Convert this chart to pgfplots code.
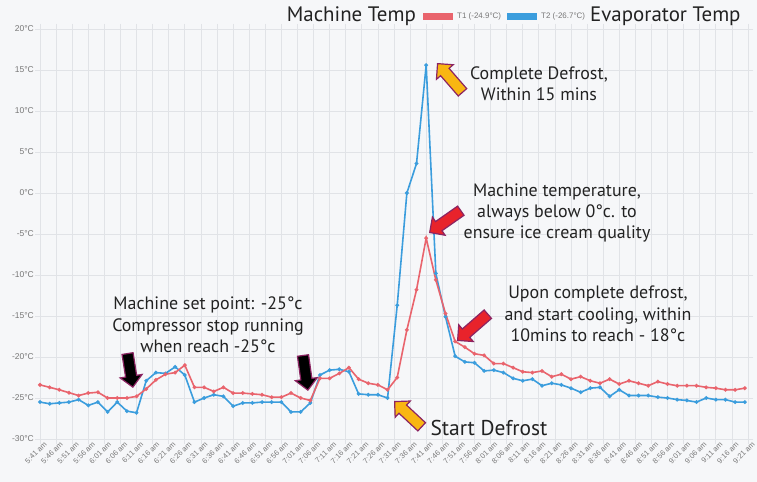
\documentclass[border=0pt]{standalone}
\usepackage{fontspec}
\setmainfont{PT Sans}
\newfontfamily\tickfont{Liberation Sans}
\usepackage{pgfplots}
\usepackage{pgfplotstable}
\pgfplotsset{compat=1.18}
\usetikzlibrary{shapes.arrows}
\definecolor{redline}{HTML}{E9646D}
\definecolor{blueline}{HTML}{3B9DDD}
\definecolor{arrowedge}{HTML}{8C2462}
\definecolor{yel}{HTML}{F9B612}
\definecolor{redarrow}{HTML}{E8232B}
\definecolor{txt}{HTML}{222222}
\definecolor{gridcol}{HTML}{E1E3E7}
\definecolor{bgcol}{HTML}{F6F7F9}
\definecolor{tickcol}{HTML}{777777}

\pgfplotstableread{
t T1 T2
0 -23.4 -25.5
3 -23.7 -25.7
6 -24.0 -25.6
9 -24.35 -25.5
12 -24.7 -25.2
15 -24.4 -25.9
18 -24.3 -25.5
21 -25.0 -26.7
24 -25.0 -25.5
27 -25.0 -26.6
30 -24.8 -26.8
33 -23.9 -22.9
36 -22.8 -21.9
39 -22.1 -22.0
42 -21.9 -21.2
45 -21.0 -22.2
48 -23.7 -25.5
51 -23.7 -25.0
54 -24.2 -24.6
57 -23.7 -24.8
60 -24.4 -26.0
63 -24.4 -25.6
66 -24.5 -25.6
69 -24.6 -25.5
72 -24.9 -25.5
75 -24.9 -25.5
78 -24.4 -26.7
81 -25.0 -26.7
84 -25.3 -25.6
87 -22.6 -22.2
90 -22.6 -21.6
93 -22.0 -21.5
96 -21.3 -21.8
99 -22.7 -24.5
102 -23.2 -24.6
105 -23.4 -24.6
108 -24.0 -25.0
111 -22.5 -13.7
114 -16.7 0.0
117 -11.8 3.6
120 -5.5 15.6
123 -10.6 -9.8
126 -14.7 -15.1
129 -18.1 -19.9
132 -18.8 -20.6
135 -19.6 -20.7
138 -19.8 -21.7
141 -20.8 -21.6
144 -20.8 -21.9
147 -21.3 -22.6
150 -21.8 -22.9
153 -21.9 -22.7
156 -21.7 -23.5
159 -22.4 -23.2
162 -22.1 -23.4
165 -22.7 -23.8
168 -22.4 -24.3
171 -22.9 -23.8
174 -23.2 -23.7
177 -22.7 -24.8
180 -23.3 -24.0
183 -22.9 -24.7
186 -23.2 -24.7
189 -23.5 -24.7
192 -23.0 -24.9
195 -23.3 -25.0
198 -23.5 -25.2
201 -23.5 -25.3
204 -23.5 -25.5
207 -23.7 -25.0
210 -23.8 -25.2
213 -24.0 -25.2
216 -24.0 -25.5
219 -23.8 -25.5
}\datatable

\begin{document}
\begin{tikzpicture}
\path[use as bounding box] (0,0) rectangle (757bp,482bp);
\fill[bgcol] (0,0) rectangle (757bp,482bp);
\begin{axis}[
  at={(40bp,43bp)}, anchor=south west,
  scale only axis, width=708bp, height=410bp,
  xmin=0, xmax=220, ymin=-30, ymax=20,
  xtick={0,5,...,220},
  xticklabels={5:41 am,5:46 am,5:51 am,5:56 am,6:01 am,6:06 am,6:11 am,6:16 am,6:21 am,6:26 am,6:31 am,6:36 am,6:41 am,6:46 am,6:51 am,6:56 am,7:01 am,7:06 am,7:11 am,7:16 am,7:21 am,7:26 am,7:31 am,7:36 am,7:41 am,7:46 am,7:51 am,7:56 am,8:01 am,8:06 am,8:11 am,8:16 am,8:21 am,8:26 am,8:31 am,8:36 am,8:41 am,8:46 am,8:51 am,8:56 am,9:01 am,9:06 am,9:11 am,9:16 am,9:21 am},
  ytick={-30,-25,...,20},
  yticklabels={-30°C,-25°C,-20°C,-15°C,-10°C,-5°C,0°C,5°C,10°C,15°C,20°C},
  grid=major,
  grid style={gridcol, line width=0.7bp},
  axis line style={gridcol, line width=0.7bp},
  tick style={gridcol, line width=0.7bp},
  tick align=outside, major tick length=5bp,
  xticklabel style={font=\tickfont\fontsize{7.5}{8}\selectfont, text=tickcol, rotate=45, anchor=north east, inner sep=0.5bp, xshift=5bp},
  yticklabel style={font=\tickfont\fontsize{8.5}{9}\selectfont, text=tickcol, inner sep=1bp},
  clip=false,
]
\addplot[blueline, line width=1.6bp, mark=*, mark size=1bp] table[x=t,y=T2]{\datatable};
\addplot[redline, line width=1.6bp, mark=*, mark size=1bp] table[x=t,y=T1]{\datatable};
\end{axis}
\begin{scope}[shift={(0,482bp)}, x=1bp, y=-1bp]
\tikzset{blk/.style={single arrow, draw=arrowedge, line width=1.2bp, inner xsep=0pt, inner ysep=5bp, minimum width=0pt, single arrow head extend=5.5bp, anchor=tip},
annot/.style={align=center, font=\fontsize{18}{21.5}\selectfont, inner sep=0pt, text=txt}}
\node[font=\fontsize{21}{22}\selectfont, text=txt, anchor=base east, inner sep=0pt] at (416,22) {Machine Temp};
\fill[redline] (423,13) rectangle (453,20);
\node[anchor=west, font=\tickfont\fontsize{8}{9}\selectfont, text=tickcol, inner sep=0pt] at (457,16.5) {T1 (-24.9°C)};
\fill[blueline] (507,13) rectangle (537,20);
\node[anchor=west, font=\tickfont\fontsize{8}{9}\selectfont, text=tickcol, inner sep=0pt] at (541,16.5) {T2 (-26.7°C)};
\node[font=\fontsize{21}{22}\selectfont, text=txt, anchor=base west, inner sep=0pt] at (590,22) {Evaporator Temp};
\node[blk, fill=yel, minimum height=38bp, rotate=131] at (437,63) {};
\node[blk, fill=redarrow, minimum height=38bp, rotate=215] at (429,233) {};
\node[blk, fill=redarrow, minimum height=40bp, rotate=221] at (457,341) {};
\node[blk, fill=black, minimum height=34bp, rotate=-81] at (133,388) {};
\node[blk, fill=black, minimum height=35bp, rotate=-82] at (308,391) {};
\node[blk, fill=yel, minimum height=37bp, rotate=137] at (394,401) {};
\node[annot] at (539,84) {Complete Defrost,\\Within 15 mins};
\node[annot] at (557,213) {Machine temperature,\\always below 0°c. to\\ensure ice cream quality};
\node[annot] at (598,314) {Upon complete defrost,\\and start cooling, within\\10mins to reach - 18°c};
\node[annot] at (208,325) {Machine set point: -25°c\\Compressor stop running\\when reach -25°c};
\node[font=\fontsize{21.5}{23}\selectfont, text=txt, inner sep=0pt] at (489,428) {Start Defrost};
\end{scope}
\end{tikzpicture}
\end{document}
